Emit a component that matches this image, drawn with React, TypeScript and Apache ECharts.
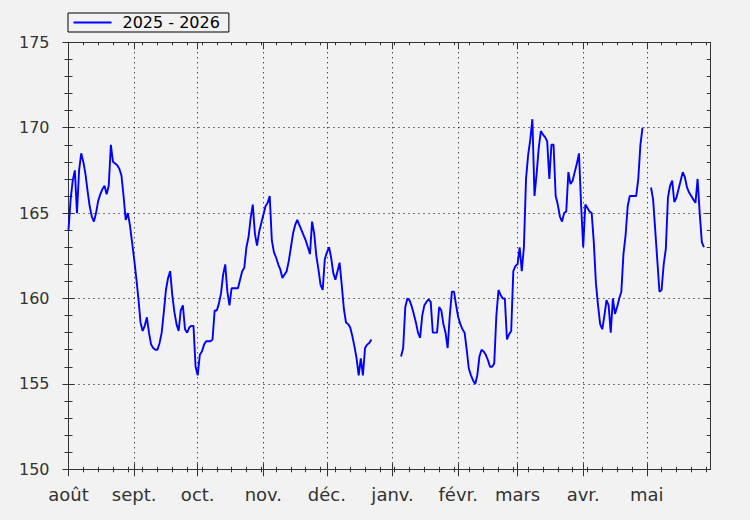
import React, { useEffect, useRef } from 'react';
import * as echarts from 'echarts';

const seriesName = '2025 - 2026';
const startDate = '2025-08-01';
const monthLabels = ['janv.', 'févr.', 'mars', 'avr.', 'mai', 'juin', 'juil.', 'août', 'sept.', 'oct.', 'nov.', 'déc.'];
const yMin = 150;
const yMax = 175;
const yStep = 5;

// one value per day from 2025-08-01 to 2026-05-31 (null = no data)
const values: (number | null)[] = [
  164.0, 165.8, 166.9, 167.5, 165.0, 167.5, 168.5, 168.0, 167.3, 166.3,
  165.4, 164.8, 164.5, 165.0, 165.7, 166.1, 166.4, 166.6, 166.1, 166.6,
  169.0, 168.0, 167.9, 167.8, 167.6, 167.2, 166.0, 164.6, 165.0, 164.3,
  163.3, 162.3, 161.2, 160.0, 158.6, 158.1, 158.4, 158.9, 158.0, 157.3,
  157.1, 157.0, 157.0, 157.4, 158.0, 159.2, 160.5, 161.2, 161.6, 160.2,
  159.2, 158.5, 158.1, 159.3, 159.6, 158.2, 158.0, 158.3, 158.4, 158.4,
  156.0, 155.5, 156.7, 156.9, 157.3, 157.5, 157.5, 157.5, 157.6, 159.3,
  159.3, 159.7, 160.3, 161.4, 162.0, 160.4, 159.6, 160.6, 160.6, 160.6,
  160.6, 161.1, 161.6, 161.8, 163.0, 163.6, 164.7, 165.5, 163.8, 163.1,
  163.9, 164.4, 164.9, 165.4, 165.6, 166.0, 163.4, 162.7, 162.4, 162.0,
  161.7, 161.2, 161.4, 161.6, 162.2, 163.0, 163.8, 164.3, 164.6, 164.3,
  164.0, 163.7, 163.4, 163.0, 162.6, 164.5, 163.8, 162.5, 161.7, 160.8,
  160.5, 162.3, 162.7, 163.0, 162.4, 161.5, 161.1, 161.6, 162.1, 160.8,
  159.4, 158.6, 158.5, 158.3, 157.8, 157.2, 156.5, 155.5, 156.5, 155.5,
  157.1, 157.3, 157.4, 157.6, null, null, null, null, null, null,
  null, null, null, null, null, null, null, 156.6, 157.1, 159.5,
  160.0, 159.9, 159.55, 159.1, 158.6, 158.0, 157.7, 159.0, 159.6, 159.8,
  159.95, 159.8, 158.0, 158.0, 158.0, 159.5, 159.3, 158.5, 158.0, 157.1,
  159.0, 160.4, 160.4, 159.6, 158.9, 158.5, 158.2, 158.0, 157.0, 155.9,
  155.5, 155.2, 155.0, 155.5, 156.6, 157.0, 156.9, 156.7, 156.4, 156.0,
  156.0, 156.2, 159.0, 160.5, 160.2, 160.0, 160.0, 157.6, 157.9, 158.1,
  161.6, 161.9, 162.0, 163.0, 161.6, 163.0, 167.0, 168.4, 169.3, 170.5,
  166.0, 167.3, 168.8, 169.8, 169.6, 169.45, 169.2, 167.0, 169.0, 169.0,
  166.0, 165.5, 164.8, 164.5, 165.0, 165.1, 167.4, 166.7, 166.9, 167.4,
  167.9, 168.5, 165.5, 163.0, 165.5, 165.3, 165.1, 165.0, 163.3, 160.9,
  159.6, 158.5, 158.2, 159.0, 159.9, 159.6, 158.0, 160.0, 159.1, 159.5,
  160.0, 160.4, 162.6, 163.7, 165.4, 166.0, 166.0, 166.0, 166.0, 167.0,
  169.0, 170.0, null, null, null, 166.5, 165.8, 164.0, 162.2, 160.4,
  160.5, 162.0, 162.9, 165.9, 166.6, 166.9, 165.65, 165.9, 166.4, 166.9,
  167.4, 167.1, 166.5, 166.2, 166.0, 165.8, 165.6, 167.0, 165.0, 163.3,
  163.0, null, null, null,
];

const DAY = 86400000;
const startMs = Date.parse(startDate + 'T00:00:00Z');
const days: string[] = values.map((_, i) => new Date(startMs + i * DAY).toISOString().slice(0, 10));

const FONT = 'DejaVu Sans';
const AXIS_COLOR = '#333';
const isMonthStart = (i: number) => days[i] !== undefined && days[i].slice(8, 10) === '01';
const isWeekTick = (i: number) => i % 7 === 0; // Fridays
const monthName = (v: string) => monthLabels[parseInt(v.slice(5, 7), 10) - 1];

export default function App() {
  const ref = useRef<HTMLDivElement>(null);
  useEffect(() => {
    if (!ref.current) return;
    const chart = echarts.init(ref.current, undefined, { renderer: 'svg' });
    const lineStyle = { color: AXIS_COLOR, width: 1 };
    const baseX = {
      type: 'category' as const,
      data: days,
      boundaryGap: false,
      gridIndex: 0,
      axisLine: { show: false, onZero: false },
      axisLabel: { show: false },
      splitLine: { show: false },
      axisTick: { show: false },
    };
    const tickX = (inside: boolean, length: number, fn: (i: number) => boolean) => ({
      show: true,
      inside,
      length,
      interval: (index: number) => fn(index),
      lineStyle,
    });
    const baseY = {
      type: 'value' as const,
      min: yMin,
      max: yMax,
      interval: yStep,
      gridIndex: 0,
      axisLine: { show: false },
      axisLabel: { show: false },
      splitLine: { show: false },
    };
    chart.setOption({
      animation: false,
      backgroundColor: '#f2f2f2',
      textStyle: { fontFamily: FONT },
      grid: { left: 68.5, right: 39.7, top: 42.3, bottom: 50.7, containLabel: false },
      legend: {
        left: 68,
        top: 13,
        padding: [1.5, 9, 1.5, 5.5],
        borderColor: '#000',
        borderWidth: 1,
        borderRadius: 0,
        itemWidth: 38,
        itemHeight: 2,
        icon: 'rect',
        textStyle: { fontSize: 16, color: '#000', fontFamily: FONT, padding: [0, 0, 0, 6] },
        data: [seriesName],
      },
      xAxis: [
        {
          ...baseX,
          position: 'bottom',
          axisLine: { show: true, onZero: false, lineStyle },
          axisTick: tickX(false, 7, isMonthStart),
          axisLabel: {
            show: true,
            interval: (index: number) => isMonthStart(index),
            formatter: (v: string) => monthName(v),
            margin: 16,
            fontSize: 18,
            color: AXIS_COLOR,
            fontFamily: FONT,
          },
          splitLine: {
            show: true,
            interval: (index: number) => isMonthStart(index),
            lineStyle: { type: [1, 4], color: '#000', width: 1 },
          },
        },
        { ...baseX, position: 'bottom', axisTick: tickX(true, 6, isMonthStart) },
        { ...baseX, position: 'bottom', axisTick: tickX(false, 3, isWeekTick) },
        { ...baseX, position: 'bottom', axisTick: tickX(true, 2.5, isWeekTick) },
        {
          ...baseX,
          position: 'top',
          axisLine: { show: true, onZero: false, lineStyle },
          axisTick: tickX(true, 7, isMonthStart),
        },
        { ...baseX, position: 'top', axisTick: tickX(true, 3, isWeekTick) },
      ],
      yAxis: [
        {
          ...baseY,
          position: 'left',
          axisLine: { show: true, lineStyle },
          axisTick: { show: true, inside: false, length: 6, lineStyle },
          minorTick: { show: true, splitNumber: 5, length: 4, lineStyle },
          axisLabel: { show: true, margin: 19, fontSize: 16, color: AXIS_COLOR, fontFamily: FONT },
          splitLine: { show: true, lineStyle: { type: [1, 4], color: '#000', width: 1 } },
        },
        {
          ...baseY,
          position: 'left',
          axisTick: { show: true, inside: true, length: 6, lineStyle },
          minorTick: { show: true, splitNumber: 5, length: 4, lineStyle },
        },
        {
          ...baseY,
          position: 'right',
          axisLine: { show: true, lineStyle },
          axisTick: { show: true, inside: true, length: 6, lineStyle },
          minorTick: { show: true, splitNumber: 5, length: 3.5, lineStyle },
        },
      ],
      series: [
        {
          type: 'line',
          name: seriesName,
          data: values,
          xAxisIndex: 0,
          yAxisIndex: 0,
          symbol: 'none',
          showSymbol: false,
          connectNulls: false,
          lineStyle: { color: '#0000ff', width: 1.9 },
          itemStyle: { color: '#0000ff' },
        },
      ],
    });
    return () => chart.dispose();
  }, []);
  return (
    <div
      ref={ref}
      style={{ position: 'fixed', left: 0, top: 0, width: 750, height: 520, background: '#f2f2f2' }}
    />
  );
}
